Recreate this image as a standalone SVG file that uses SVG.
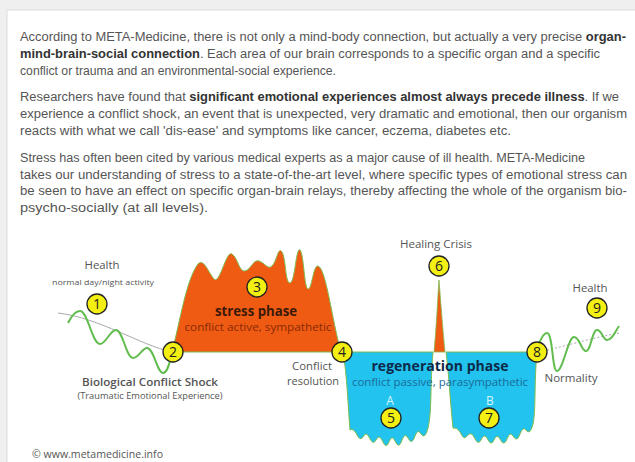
<svg xmlns="http://www.w3.org/2000/svg" width="635" height="462" viewBox="0 0 635 462">
<style>
.p{font-family:"Liberation Sans",Arial,sans-serif;font-size:12.5px;fill:#555}
.b{font-weight:bold;fill:#333}
.d{font-family:"Open Sans","Noto Sans",sans-serif;fill:#555;text-anchor:middle}
.num{font-family:"Open Sans","Noto Sans",sans-serif;font-size:14px;fill:#222;text-anchor:middle}
.c{fill:#f3ef12;stroke:#222;stroke-width:1.3}
.wave{fill:none;stroke:#62bd4f;stroke-width:2}
.base{fill:none;stroke:#aaa;stroke-width:1}
</style>
<rect width="635" height="462" fill="#efefef"/>
<rect x="7" y="10" width="640" height="460" fill="#fff" stroke="#dcdcdc"/>
<g id="text">
<text class="p" x="20" y="41" textLength="606" lengthAdjust="spacingAndGlyphs">According to META-Medicine, there is not only a mind-body connection, but actually a very precise <tspan class="b">organ-</tspan></text>
<text class="p" x="20" y="58" textLength="580" lengthAdjust="spacingAndGlyphs"><tspan class="b">mind-brain-social connection</tspan>. Each area of our brain corresponds to a specific organ and a specific</text>
<text class="p" x="20" y="75" textLength="316" lengthAdjust="spacingAndGlyphs">conflict or trauma and an environmental-social experience.</text>
<text class="p" x="20" y="101" textLength="599" lengthAdjust="spacingAndGlyphs">Researchers have found that <tspan class="b">significant emotional experiences almost always precede illness</tspan>. If we</text>
<text class="p" x="20" y="118" textLength="607" lengthAdjust="spacingAndGlyphs">experience a conflict shock, an event that is unexpected, very dramatic and emotional, then our organism</text>
<text class="p" x="20" y="135" textLength="491" lengthAdjust="spacingAndGlyphs">reacts with what we call 'dis-ease' and symptoms like cancer, eczema, diabetes etc.</text>
<text class="p" x="20" y="162" textLength="565" lengthAdjust="spacingAndGlyphs">Stress has often been cited by various medical experts as a major cause of ill health. META-Medicine</text>
<text class="p" x="20" y="179" textLength="607" lengthAdjust="spacingAndGlyphs">takes our understanding of stress to a state-of-the-art level, where specific types of emotional stress can</text>
<text class="p" x="20" y="195" textLength="607" lengthAdjust="spacingAndGlyphs">be seen to have an effect on specific organ-brain relays, thereby affecting the whole of the organism bio-</text>
<text class="p" x="20" y="212" textLength="188" lengthAdjust="spacingAndGlyphs">psycho-socially (at all levels).</text>
</g>
<g id="connectors">
<path class="base" d="M58,313 C100,318 140,345 172,352"/>
<path class="wave" d="M68,323 C72,315 76,311 80,311 C88,311 92,344 100,344 C106,344 110,330 116,330 C123,330 126,358 133,358 C139,358 142,348 147,348 C154,348 157,373 163,373 C168,373 170,360 172,354"/>
<path class="base" stroke-dasharray="2,2" d="M543,351 C570,345 595,337 620,333"/>
<path class="wave" d="M539,344 C542,336 544,333 547,333 C553,333 552,371 557,371 C563,371 568,337 574,337 C580,337 581,351 586,351 C591,351 592,330 597,330 C602,330 603,340 607,340 C612,340 615,332 619,326"/>
</g>
<g id="stress-phase">
<path fill="#f05b14" stroke="#7dbb4e" stroke-width="1" d="M172,352 C180,322 186,280 198,264 C204,258 208,272 214,279 C220,285 226,250 232,254 C238,258 239,272 245,271 C251,270 253,259 259,261 C265,263 268,270 272,266 C277,261 278,246 282,252 C286,258 285,283 290,283 C295,283 296,246 300,250 C304,254 304,288 308,289 C312,290 313,265 318,266 C326,268 332,320 341,352 Z"/>
<text class="d" x="256" y="316" font-size="14" font-weight="bold" style="fill:#3a1a08" textLength="82" lengthAdjust="spacingAndGlyphs">stress phase</text>
<text class="d" x="258" y="331" font-size="11.5" style="fill:#8a2a00" textLength="147" lengthAdjust="spacingAndGlyphs">conflict active, sympathetic</text>
</g>
<g id="regeneration-phase">
<path fill="#22c3ee" stroke="#7dbb4e" stroke-width="1" d="M343,352 L433,352 C430,385 432,412 428,428 Q425,440 421,434 Q418,428 415,436 Q412,446 408,438 Q405,432 402,440 Q399,450 395,441 Q392,434 389,442 Q386,450 382,440 Q379,434 376,440 Q373,446 369,437 Q366,431 363,437 Q360,442 356,433 Q353,428 350,430 C348,405 347,375 343,352 Z"/>
<path fill="#22c3ee" stroke="#7dbb4e" stroke-width="1" d="M446,352 L537,352 C534,385 536,410 533,424 Q530,436 526,430 Q523,426 520,434 Q517,443 513,436 Q510,431 507,439 Q504,447 500,439 Q497,433 494,440 Q491,447 487,438 Q484,433 481,440 Q478,446 474,437 Q471,431 467,436 Q464,441 460,432 Q457,427 453,428 C450,400 449,375 446,352 Z"/>
<text class="d" x="440" y="371" font-size="14.5" font-weight="bold" style="fill:#0d2a4a" textLength="137" lengthAdjust="spacingAndGlyphs">regeneration phase</text>
<text class="d" x="440" y="386" font-size="11.5" style="fill:#1b6a9a" textLength="176" lengthAdjust="spacingAndGlyphs">conflict passive, parasympathetic</text>
<text class="d" x="390" y="405" font-size="12" style="fill:#d9f5ff">A</text>
<text class="d" x="490" y="405" font-size="12" style="fill:#d9f5ff">B</text>
</g>
<g id="healing-crisis">
<path fill="#f05b14" stroke="#7dbb4e" stroke-width="0.8" d="M434,352 C437,320 438,292 439,280 C440,292 442,320 445,352 Z"/>
<text class="d" x="436" y="248" font-size="11" textLength="72" lengthAdjust="spacingAndGlyphs">Healing Crisis</text>
</g>
<g id="labels">
<text class="d" x="102" y="269" font-size="11" textLength="35" lengthAdjust="spacingAndGlyphs">Health</text>
<text class="d" x="103" y="285" font-size="8" textLength="102" lengthAdjust="spacingAndGlyphs">normal day/night activity</text>
<text class="d" x="150" y="386" font-size="11.5" font-weight="600" textLength="136" lengthAdjust="spacingAndGlyphs">Biological  Conflict Shock</text>
<text class="d" x="150" y="399" font-size="8.5" textLength="145" lengthAdjust="spacingAndGlyphs">(Traumatic Emotional Experience)</text>
<text class="d" x="312" y="370" font-size="11" textLength="40" lengthAdjust="spacingAndGlyphs">Conflict</text>
<text class="d" x="313" y="385" font-size="11" textLength="52" lengthAdjust="spacingAndGlyphs">resolution</text>
<text class="d" x="590" y="292" font-size="11" textLength="35" lengthAdjust="spacingAndGlyphs">Health</text>
<text class="d" x="571" y="382" font-size="11" textLength="53" lengthAdjust="spacingAndGlyphs">Normality</text>
<text x="32" y="458" font-family="Open Sans, Noto Sans, sans-serif" font-size="10" fill="#555" textLength="131" lengthAdjust="spacingAndGlyphs">© www.metamedicine.info</text>
</g>
<g id="n1"><circle class="c" cx="97" cy="304" r="10"/><text class="num" x="97" y="309">1</text></g>
<g id="n2"><circle class="c" cx="173" cy="352" r="10"/><text class="num" x="173" y="357">2</text></g>
<g id="n3"><circle class="c" cx="257" cy="287" r="10"/><text class="num" x="257" y="292">3</text></g>
<g id="n4"><circle class="c" cx="342" cy="352" r="10"/><text class="num" x="342" y="357">4</text></g>
<g id="n5"><circle class="c" cx="391" cy="418" r="10"/><text class="num" x="391" y="423">5</text></g>
<g id="n6"><circle class="c" cx="439" cy="266" r="10"/><text class="num" x="439" y="271">6</text></g>
<g id="n7"><circle class="c" cx="489" cy="418" r="10"/><text class="num" x="489" y="423">7</text></g>
<g id="n8"><circle class="c" cx="537" cy="352" r="10"/><text class="num" x="537" y="357">8</text></g>
<g id="n9"><circle class="c" cx="597" cy="308" r="10"/><text class="num" x="597" y="313">9</text></g>
</svg>
